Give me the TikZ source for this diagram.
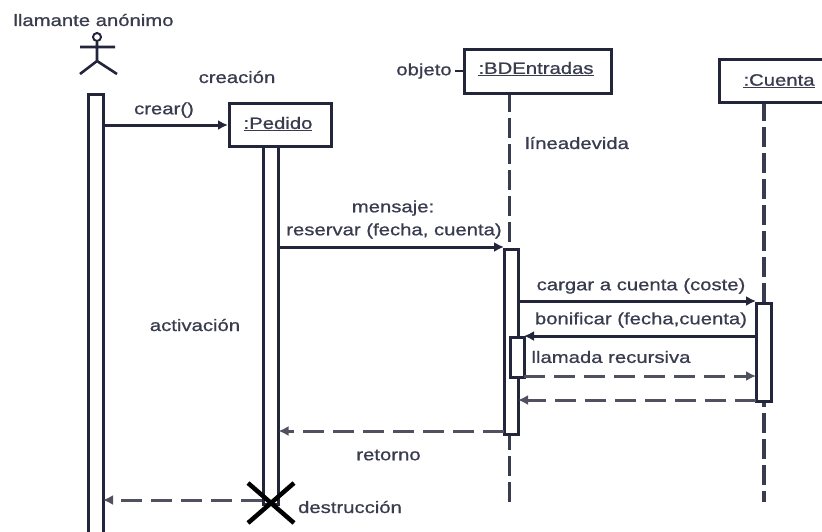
\documentclass[tikz,border=0pt]{standalone}
\usepackage{fontspec}
\setmainfont[FakeStretch=1.23,FakeBold=0.8]{Liberation Sans}
\usetikzlibrary{arrows.meta}
\definecolor{ink}{HTML}{23263A}
\tikzset{
  x=1pt,y=1pt,
  txt/.style={inner sep=0pt,text=ink!90!white,font=\fontsize{16.5}{18}\selectfont},
  obj/.style={draw=ink,line width=3pt,fill=white,inner sep=0pt,minimum height=#1},
  activ/.style={draw=ink,line width=3pt,fill=white,inner sep=0pt},
  life/.style={draw=ink!90!white,line width=3.4pt,dash pattern=on 20pt off 6pt},
  msg/.style={draw=ink,line width=3pt,-{Latex[length=10pt,width=10pt]}},
  ret/.style={draw=ink!80!white,line width=3pt,dash pattern=on 21pt off 9pt,-{Latex[length=10pt,width=10pt]}},
}
\begin{document}
\begin{tikzpicture}
\useasboundingbox (0,0) rectangle (822,-531);
\clip (0,0) rectangle (822,-531);
\coordinate (actorhead) at (97,-37);
\coordinate (hip) at (97,-61);
\coordinate (armL) at (80,-47);
\coordinate (armR) at (115,-47);
\coordinate (legL) at (80,-74);
\coordinate (legR) at (117,-74);
\coordinate (bdtop) at (509.5,-92);
\coordinate (bdbot) at (509.5,-502);
\coordinate (cutop) at (764,-101);
\coordinate (cubot) at (764,-502);
\draw[life] (bdtop) -- (bdbot);
\draw[life] (cutop) -- (cubot);
\node[circle,draw=ink,line width=2pt,minimum size=8pt,inner sep=0pt] (head) at (actorhead) {};
\draw[ink,line width=2.6pt] (head) -- (hip) (armL) -- (armR) (legL) -- (hip) -- (legR);
\node[activ,minimum width=15pt,minimum height=445pt,anchor=north] (actA) at (95.5,-93) {};
\node[activ,minimum width=15pt,minimum height=358pt,anchor=north] (actP) at (271,-145) {};
\node[activ,minimum width=14pt,minimum height=185pt,anchor=north] (actB) at (511,-248) {};
\node[activ,minimum width=15pt,minimum height=98pt,anchor=north] (actC) at (763.5,-302) {};
\node[activ,minimum width=14pt,minimum height=40pt,anchor=north] (actR) at (517,-335.5) {};
\node[obj=43pt,minimum width=102pt,anchor=north west] (pedido) at (228,-102) {};
\node[txt] (pedidoT) at (278,-124) {\underline{:Pedido}};
\node[obj=44pt,minimum width=147pt,anchor=north west] (bd) at (463,-48) {};
\node[txt] (bdT) at (536,-69) {\underline{:BDEntradas}};
\node[obj=43pt,minimum width=120pt,anchor=north west] (cu) at (718,-58) {};
\node[txt] (cuT) at (779,-81) {\underline{:Cuenta}};
\node[txt] (l1) at (93.5,-20) {llamante anónimo};
\node[txt] (l2) at (237,-77) {creación};
\node[txt] (l3) at (164,-110) {crear()};
\node[txt] (l4) at (424,-71) {objeto};
\node[txt] (l5) at (577,-143) {líneadevida};
\node[txt] (l6) at (393,-208) {mensaje:};
\node[txt] (l7) at (394,-231) {reservar (fecha, cuenta)};
\node[txt] (l8) at (641,-286) {cargar a cuenta (coste)};
\node[txt] (l9) at (641,-320) {bonificar (fecha,cuenta)};
\node[txt] (l10) at (611,-357) {llamada recursiva};
\node[txt] (l11) at (195,-325) {activación};
\node[txt] (l12) at (388.5,-455) {retorno};
\node[txt] (l13) at (350,-507) {destrucción};
\coordinate (objFrom) at (455,-71);
\coordinate (objTo) at (463,-71);
\draw[ink,line width=2.2pt] (objFrom) -- (objTo);
\coordinate (pL) at (228,-125);
\coordinate (aR1) at (103,-125);
\draw[msg] (aR1) -- (pL);
\coordinate (pR1) at (278.5,-247);
\coordinate (bL1) at (504,-247);
\draw[msg] (pR1) -- (bL1);
\coordinate (bR1) at (518,-301);
\coordinate (cL1) at (756,-301);
\draw[msg] (bR1) -- (cL1);
\coordinate (cL2) at (756,-336);
\coordinate (rT) at (524,-336);
\draw[msg] (cL2) -- (rT);
\coordinate (rB) at (524,-376);
\coordinate (cL3) at (756,-376);
\draw[ret] (rB) -- (cL3);
\coordinate (cL4) at (756,-400);
\coordinate (bR2) at (518,-400);
\draw[ret] (cL4) -- (bR2);
\coordinate (bL2) at (504,-431);
\coordinate (pR2) at (278.5,-431);
\draw[ret] (bL2) -- (pR2);
\coordinate (xc) at (262,-500);
\coordinate (aR2) at (103,-500);
\draw[ret] (xc) -- (aR2);
\coordinate (x1) at (248,-483);
\coordinate (x2) at (294,-523);
\coordinate (x3) at (294,-483);
\coordinate (x4) at (248,-523);
\draw[black,line width=4.5pt] (x1) -- (x2) (x3) -- (x4);
\end{tikzpicture}
\end{document}
